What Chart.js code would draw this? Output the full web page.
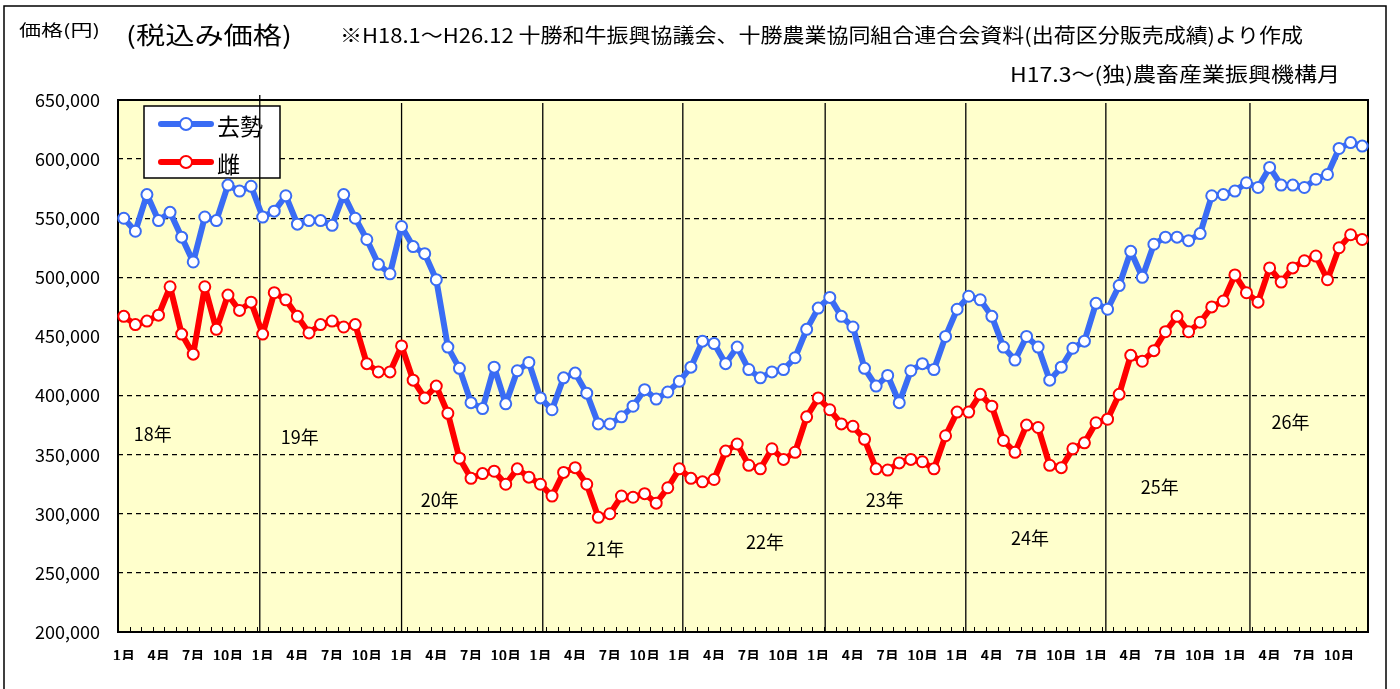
<!DOCTYPE html>
<html>
<head>
<meta charset="utf-8">
<script src="https://cdn.jsdelivr.net/npm/chart.js@4.4.0/dist/chart.umd.min.js"></script>
<style>
  html, body { margin: 0; padding: 0; background: #fff; }
  canvas { display: block; }
</style>
</head>
<body>
<canvas id="chart" width="1400" height="689"></canvas>
<script>
// years (Heisei) and months on the x axis
var years = ['H18', 'H19', 'H20', 'H21', 'H22', 'H23', 'H24', 'H25', 'H26'];
var months = ['1月', '2月', '3月', '4月', '5月', '6月', '7月', '8月', '9月', '10月', '11月', '12月'];
var yearNames = ['18年', '19年', '20年', '21年', '22年', '23年', '24年', '25年', '26年'];

// 去勢 (steer) price, yen
var steer = [
  550000, 539000, 570000, 548000, 555000, 534000, 513000, 551000, 548000, 578000, 573000, 577000,
  551000, 556000, 569000, 545000, 548000, 548000, 544000, 570000, 550000, 532000, 511000, 503000,
  543000, 526000, 520000, 498000, 441000, 423000, 394000, 389000, 424000, 393000, 421000, 428000,
  398000, 388000, 415000, 419000, 402000, 376000, 376000, 382000, 391000, 405000, 397000, 403000,
  412000, 424000, 446000, 444000, 427000, 441000, 422000, 415000, 420000, 422000, 432000, 456000,
  474000, 483000, 467000, 458000, 423000, 408000, 417000, 394000, 421000, 427000, 422000, 450000,
  473000, 484000, 481000, 467000, 441000, 430000, 450000, 441000, 413000, 424000, 440000, 446000,
  478000, 473000, 493000, 522000, 500000, 528000, 534000, 534000, 531000, 537000, 569000, 570000,
  573000, 580000, 576000, 593000, 578000, 578000, 576000, 583000, 587000, 609000, 614000, 611000
];

// 雌 (heifer) price, yen
var heifer = [
  467000, 460000, 463000, 468000, 492000, 452000, 435000, 492000, 456000, 485000, 472000, 479000,
  452000, 487000, 481000, 467000, 453000, 460000, 463000, 458000, 460000, 427000, 420000, 420000,
  442000, 413000, 398000, 408000, 385000, 347000, 330000, 334000, 336000, 325000, 338000, 331000,
  325000, 315000, 335000, 339000, 325000, 297000, 300000, 315000, 314000, 317000, 309000, 322000,
  338000, 330000, 327000, 329000, 353000, 359000, 341000, 338000, 355000, 346000, 352000, 382000,
  398000, 388000, 376000, 374000, 363000, 338000, 337000, 343000, 346000, 344000, 338000, 366000,
  386000, 386000, 401000, 391000, 362000, 352000, 375000, 373000, 341000, 339000, 355000, 360000,
  377000, 380000, 401000, 434000, 429000, 438000, 454000, 467000, 454000, 462000, 475000, 480000,
  502000, 487000, 479000, 508000, 496000, 508000, 514000, 518000, 498000, 525000, 536000, 532000
];

// annotations: year dividers (category index) and year names (index, price)
var dividerAt = [11.75, 24.0, 36.2, 48.3, 60.6, 72.75, 84.85, 97.3];
var yearNameAt = [
  [2.5, 367500], [15.2, 365000], [27.3, 311700], [41.6, 270000], [55.4, 276000],
  [65.75, 311700], [78.3, 279500], [89.5, 322700], [100.8, 377600]
];

var categories = [];
years.forEach(function (y) {
  months.forEach(function (m, i) { categories.push(y + '.' + (i + 1)); });
});

var FONT = '"Noto Sans CJK JP", "Noto Sans", sans-serif';
var BLUE = '#3a6cf4';
var RED = '#ff0000';

// draw text stretched to a given width
function fitText(ctx, text, x, y, w) {
  var m = ctx.measureText(text).width;
  ctx.save();
  ctx.translate(x, y);
  ctx.scale(w / m, 1);
  ctx.textAlign = 'left';
  ctx.fillText(text, 0, 0);
  ctx.restore();
}

var decor = {
  id: 'decor',
  beforeDraw: function (chart) {
    var ctx = chart.ctx, a = chart.chartArea;
    ctx.save();
    ctx.fillStyle = '#fff';
    ctx.fillRect(0, 0, chart.width, chart.height);
    ctx.fillStyle = '#ffffcc';
    ctx.fillRect(a.left, a.top, a.right - a.left, a.bottom - a.top);
    ctx.strokeStyle = '#000';
    ctx.lineWidth = 1.5;
    ctx.strokeRect(4, 6, 1382, 700);
    ctx.restore();
  },
  beforeDatasetsDraw: function (chart) {
    var ctx = chart.ctx, a = chart.chartArea;
    var xs = chart.scales.x, ys = chart.scales.y;
    ctx.save();

    // legend box
    ctx.fillStyle = '#fff';
    ctx.fillRect(144, 106, 136, 72);
    ctx.strokeStyle = '#000';
    ctx.lineWidth = 1.5;
    ctx.strokeRect(144, 106, 136, 72);
    chart.data.datasets.forEach(function (ds, i) {
      var y = 124 + i * 38;
      ctx.strokeStyle = ds.borderColor;
      ctx.lineWidth = 6;
      ctx.lineCap = 'round';
      ctx.beginPath();
      ctx.moveTo(161, y);
      ctx.lineTo(211, y);
      ctx.stroke();
      ctx.beginPath();
      ctx.arc(186, y, 6, 0, Math.PI * 2);
      ctx.fillStyle = '#fff';
      ctx.fill();
      ctx.lineWidth = 2;
      ctx.stroke();
      ctx.fillStyle = '#000';
      ctx.font = '23px ' + FONT;
      ctx.textAlign = 'left';
      ctx.textBaseline = 'middle';
      ctx.fillText(ds.label, 217, y + 2);
    });

    // year dividers
    ctx.strokeStyle = '#000';
    ctx.lineWidth = 1.3;
    ctx.lineCap = 'butt';
    dividerAt.forEach(function (v, i) {
      var x = xs.getPixelForValue(v);
      ctx.beginPath();
      ctx.moveTo(x, i === 0 ? a.top - 5 : a.top + 3);
      ctx.lineTo(x, a.bottom);
      ctx.stroke();
    });

    // year names
    ctx.fillStyle = '#000';
    ctx.font = '18px ' + FONT;
    ctx.textAlign = 'center';
    ctx.textBaseline = 'middle';
    yearNameAt.forEach(function (p, i) {
      ctx.fillText(yearNames[i], xs.getPixelForValue(p[0]), ys.getPixelForValue(p[1]));
    });

    // month tick marks inside the plot
    ctx.lineWidth = 1;
    for (var i = 0; i <= categories.length; i++) {
      var x = Math.round(xs.getPixelForValue(i - 0.5)) + 0.5;
      ctx.beginPath();
      ctx.moveTo(x, a.bottom);
      ctx.lineTo(x, a.bottom - 5);
      ctx.stroke();
    }

    // plot frame
    ctx.lineWidth = 2;
    ctx.strokeRect(a.left, a.top, a.right - a.left, a.bottom - a.top);
    ctx.restore();
  },
  afterDraw: function (chart) {
    var ctx = chart.ctx;
    ctx.save();
    ctx.fillStyle = '#000';
    ctx.textBaseline = 'middle';
    ctx.font = '16px ' + FONT;
    fitText(ctx, '価格(円)', 19, 30, 81);
    ctx.font = '24px ' + FONT;
    fitText(ctx, '(税込み価格)', 126, 35, 166);
    ctx.font = '20px ' + FONT;
    fitText(ctx, '※H18.1～H26.12 十勝和牛振興協議会、十勝農業協同組合連合会資料(出荷区分販売成績)より作成', 340, 35, 963);
    fitText(ctx, 'H17.3～(独)農畜産業振興機構月', 1010, 74, 330);
    ctx.restore();
  }
};

new Chart(document.getElementById('chart'), {
  type: 'line',
  data: {
    labels: categories,
    datasets: [
      {
        label: '去勢',
        data: steer,
        borderColor: BLUE,
        borderWidth: 6,
        borderJoinStyle: 'round',
        pointRadius: 5.5,
        pointBorderWidth: 2,
        pointBackgroundColor: '#fff',
        pointBorderColor: BLUE,
        tension: 0
      },
      {
        label: '雌',
        data: heifer,
        borderColor: RED,
        borderWidth: 6,
        borderJoinStyle: 'round',
        pointRadius: 5.5,
        pointBorderWidth: 2,
        pointBackgroundColor: '#fff',
        pointBorderColor: RED,
        tension: 0
      }
    ]
  },
  options: {
    responsive: false,
    animation: false,
    devicePixelRatio: 1,
    layout: { padding: { top: 100, left: 8, right: 32, bottom: 29 } },
    plugins: {
      legend: { display: false },
      tooltip: { enabled: false }
    },
    scales: {
      x: {
        type: 'category',
        offset: true,
        grid: { display: false },
        border: { display: false },
        ticks: {
          autoSkip: false,
          maxRotation: 0,
          padding: 7,
          color: '#000',
          font: { family: FONT, size: 14, weight: 'bold' },
          callback: function (v, i) { return i % 3 === 0 ? months[i % 12] : ''; }
        },
        afterFit: function (s) { s.height = 28; }
      },
      y: {
        min: 200000,
        max: 650000,
        grid: { color: '#000', lineWidth: 1.3, drawTicks: false },
        border: { display: false, dash: [5, 4] },
        ticks: {
          stepSize: 50000,
          padding: 18,
          color: '#000',
          font: { family: FONT, size: 18 },
          callback: function (v) { return v.toLocaleString('en-US'); }
        },
        afterFit: function (s) { s.width = 110; }
      }
    }
  },
  plugins: [decor]
});
</script>
</body>
</html>
